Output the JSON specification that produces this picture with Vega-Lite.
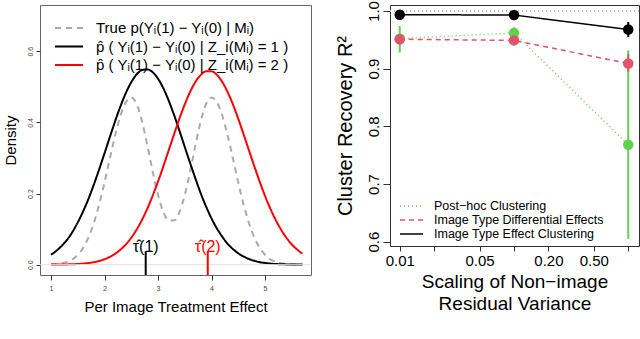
{
  "$schema": "https://vega.github.io/schema/vega-lite/v6.json",
  "padding": {"left": 2, "top": 0, "right": 0, "bottom": 0},
  "background": "white",
  "spacing": 79,
  "bounds": "flush",
  "resolve": {"scale": {"color": "independent", "strokeDash": "independent"}, "legend": {"color": "independent", "strokeDash": "independent"}},
  "config": {
    "font": "Liberation Sans",
    "axis": {"grid": false, "domain": false, "titleFontWeight": "normal", "titleColor": "black", "labelColor": "black", "tickColor": "#333", "labelFont": "Liberation Sans", "titleFont": "Liberation Sans"},
    "legend": {"title": null, "padding": 0, "labelFont": "Liberation Sans", "labelColor": "black"}
  },
  "datasets": {
    "curves": [
      {"x": 1.0, "y": 0.001, "s": "true"}, {"x": 1.1, "y": 0.002, "s": "true"}, {"x": 1.2, "y": 0.004, "s": "true"}, {"x": 1.3, "y": 0.008, "s": "true"}, {"x": 1.4, "y": 0.015, "s": "true"}, {"x": 1.5, "y": 0.028, "s": "true"}, {"x": 1.6, "y": 0.047, "s": "true"}, {"x": 1.7, "y": 0.077, "s": "true"}, {"x": 1.8, "y": 0.117, "s": "true"}, {"x": 1.9, "y": 0.169, "s": "true"}, {"x": 2.0, "y": 0.231, "s": "true"}, {"x": 2.1, "y": 0.299, "s": "true"}, {"x": 2.2, "y": 0.364, "s": "true"}, {"x": 2.3, "y": 0.420, "s": "true"}, {"x": 2.4, "y": 0.457, "s": "true"}, {"x": 2.5, "y": 0.470, "s": "true"}, {"x": 2.6, "y": 0.452, "s": "true"}, {"x": 2.7, "y": 0.404, "s": "true"}, {"x": 2.8, "y": 0.336, "s": "true"}, {"x": 2.9, "y": 0.262, "s": "true"}, {"x": 3.0, "y": 0.196, "s": "true"}, {"x": 3.1, "y": 0.148, "s": "true"}, {"x": 3.2, "y": 0.124, "s": "true"}, {"x": 3.3, "y": 0.124, "s": "true"}, {"x": 3.4, "y": 0.148, "s": "true"}, {"x": 3.5, "y": 0.196, "s": "true"}, {"x": 3.6, "y": 0.262, "s": "true"}, {"x": 3.7, "y": 0.336, "s": "true"}, {"x": 3.8, "y": 0.404, "s": "true"}, {"x": 3.9, "y": 0.452, "s": "true"}, {"x": 4.0, "y": 0.470, "s": "true"}, {"x": 4.1, "y": 0.457, "s": "true"}, {"x": 4.2, "y": 0.420, "s": "true"}, {"x": 4.3, "y": 0.364, "s": "true"}, {"x": 4.4, "y": 0.299, "s": "true"}, {"x": 4.5, "y": 0.231, "s": "true"}, {"x": 4.6, "y": 0.169, "s": "true"}, {"x": 4.7, "y": 0.117, "s": "true"}, {"x": 4.8, "y": 0.077, "s": "true"}, {"x": 4.9, "y": 0.047, "s": "true"}, {"x": 5.0, "y": 0.028, "s": "true"}, {"x": 5.1, "y": 0.015, "s": "true"}, {"x": 5.2, "y": 0.008, "s": "true"}, {"x": 5.3, "y": 0.004, "s": "true"}, {"x": 5.4, "y": 0.002, "s": "true"}, {"x": 5.5, "y": 0.001, "s": "true"}, {"x": 5.6, "y": 0.0003, "s": "true"}, {"x": 5.7, "y": 0.0001, "s": "true"},
      {"x": 1.0, "y": 0.028, "s": "z1"}, {"x": 1.1, "y": 0.039, "s": "z1"}, {"x": 1.2, "y": 0.053, "s": "z1"}, {"x": 1.3, "y": 0.070, "s": "z1"}, {"x": 1.4, "y": 0.092, "s": "z1"}, {"x": 1.5, "y": 0.119, "s": "z1"}, {"x": 1.6, "y": 0.150, "s": "z1"}, {"x": 1.7, "y": 0.185, "s": "z1"}, {"x": 1.8, "y": 0.225, "s": "z1"}, {"x": 1.9, "y": 0.268, "s": "z1"}, {"x": 2.0, "y": 0.313, "s": "z1"}, {"x": 2.1, "y": 0.359, "s": "z1"}, {"x": 2.2, "y": 0.404, "s": "z1"}, {"x": 2.3, "y": 0.446, "s": "z1"}, {"x": 2.4, "y": 0.483, "s": "z1"}, {"x": 2.5, "y": 0.513, "s": "z1"}, {"x": 2.6, "y": 0.535, "s": "z1"}, {"x": 2.7, "y": 0.547, "s": "z1"}, {"x": 2.8, "y": 0.549, "s": "z1"}, {"x": 2.9, "y": 0.541, "s": "z1"}, {"x": 3.0, "y": 0.523, "s": "z1"}, {"x": 3.1, "y": 0.496, "s": "z1"}, {"x": 3.2, "y": 0.461, "s": "z1"}, {"x": 3.3, "y": 0.421, "s": "z1"}, {"x": 3.4, "y": 0.377, "s": "z1"}, {"x": 3.5, "y": 0.331, "s": "z1"}, {"x": 3.6, "y": 0.286, "s": "z1"}, {"x": 3.7, "y": 0.242, "s": "z1"}, {"x": 3.8, "y": 0.200, "s": "z1"}, {"x": 3.9, "y": 0.163, "s": "z1"}, {"x": 4.0, "y": 0.130, "s": "z1"}, {"x": 4.1, "y": 0.102, "s": "z1"}, {"x": 4.2, "y": 0.079, "s": "z1"}, {"x": 4.3, "y": 0.059, "s": "z1"}, {"x": 4.4, "y": 0.044, "s": "z1"}, {"x": 4.5, "y": 0.032, "s": "z1"}, {"x": 4.6, "y": 0.023, "s": "z1"}, {"x": 4.7, "y": 0.016, "s": "z1"}, {"x": 4.8, "y": 0.011, "s": "z1"}, {"x": 4.9, "y": 0.007, "s": "z1"}, {"x": 5.0, "y": 0.005, "s": "z1"}, {"x": 5.1, "y": 0.003, "s": "z1"}, {"x": 5.2, "y": 0.002, "s": "z1"}, {"x": 5.3, "y": 0.0012, "s": "z1"}, {"x": 5.4, "y": 0.0008, "s": "z1"}, {"x": 5.5, "y": 0.0005, "s": "z1"}, {"x": 5.6, "y": 0.0003, "s": "z1"}, {"x": 5.7, "y": 0.0002, "s": "z1"},
      {"x": 1.0, "y": 0.0002, "s": "z2"}, {"x": 1.1, "y": 0.0003, "s": "z2"}, {"x": 1.2, "y": 0.0005, "s": "z2"}, {"x": 1.3, "y": 0.0008, "s": "z2"}, {"x": 1.4, "y": 0.0012, "s": "z2"}, {"x": 1.5, "y": 0.002, "s": "z2"}, {"x": 1.6, "y": 0.0031, "s": "z2"}, {"x": 1.7, "y": 0.0047, "s": "z2"}, {"x": 1.8, "y": 0.0071, "s": "z2"}, {"x": 1.9, "y": 0.0106, "s": "z2"}, {"x": 2.0, "y": 0.0154, "s": "z2"}, {"x": 2.1, "y": 0.022, "s": "z2"}, {"x": 2.2, "y": 0.0308, "s": "z2"}, {"x": 2.3, "y": 0.0424, "s": "z2"}, {"x": 2.4, "y": 0.0572, "s": "z2"}, {"x": 2.5, "y": 0.0758, "s": "z2"}, {"x": 2.6, "y": 0.0986, "s": "z2"}, {"x": 2.7, "y": 0.1258, "s": "z2"}, {"x": 2.8, "y": 0.1575, "s": "z2"}, {"x": 2.9, "y": 0.1937, "s": "z2"}, {"x": 3.0, "y": 0.2337, "s": "z2"}, {"x": 3.1, "y": 0.2767, "s": "z2"}, {"x": 3.2, "y": 0.3215, "s": "z2"}, {"x": 3.3, "y": 0.3666, "s": "z2"}, {"x": 3.4, "y": 0.4103, "s": "z2"}, {"x": 3.5, "y": 0.4507, "s": "z2"}, {"x": 3.6, "y": 0.4858, "s": "z2"}, {"x": 3.7, "y": 0.514, "s": "z2"}, {"x": 3.8, "y": 0.5336, "s": "z2"}, {"x": 3.9, "y": 0.5437, "s": "z2"}, {"x": 4.0, "y": 0.5437, "s": "z2"}, {"x": 4.1, "y": 0.5336, "s": "z2"}, {"x": 4.2, "y": 0.514, "s": "z2"}, {"x": 4.3, "y": 0.4858, "s": "z2"}, {"x": 4.4, "y": 0.4507, "s": "z2"}, {"x": 4.5, "y": 0.4103, "s": "z2"}, {"x": 4.6, "y": 0.3666, "s": "z2"}, {"x": 4.7, "y": 0.3215, "s": "z2"}, {"x": 4.8, "y": 0.2767, "s": "z2"}, {"x": 4.9, "y": 0.2337, "s": "z2"}, {"x": 5.0, "y": 0.1937, "s": "z2"}, {"x": 5.1, "y": 0.1575, "s": "z2"}, {"x": 5.2, "y": 0.1258, "s": "z2"}, {"x": 5.3, "y": 0.0986, "s": "z2"}, {"x": 5.4, "y": 0.0758, "s": "z2"}, {"x": 5.5, "y": 0.0572, "s": "z2"}, {"x": 5.6, "y": 0.0424, "s": "z2"}, {"x": 5.7, "y": 0.0308, "s": "z2"}
    ],
    "taus": [
      {"x": 2.77, "lab": "τ̂(1)", "s": "z1"},
      {"x": 3.93, "lab": "τ̂(2)", "s": "z2"}
    ],
    "perf": [
      {"scale": 0.01, "method": "Post−hoc Clustering", "r2": 0.952, "lo": 0.928, "hi": 0.974},
      {"scale": 0.1, "method": "Post−hoc Clustering", "r2": 0.962, "lo": 0.952, "hi": 0.972},
      {"scale": 1, "method": "Post−hoc Clustering", "r2": 0.768, "lo": 0.605, "hi": 0.932},
      {"scale": 0.01, "method": "Image Type Differential Effects", "r2": 0.951, "lo": 0.947, "hi": 0.955},
      {"scale": 0.1, "method": "Image Type Differential Effects", "r2": 0.949, "lo": 0.946, "hi": 0.952},
      {"scale": 1, "method": "Image Type Differential Effects", "r2": 0.909, "lo": 0.895, "hi": 0.925},
      {"scale": 0.01, "method": "Image Type Effect Clustering", "r2": 0.9936, "lo": 0.991, "hi": 0.996},
      {"scale": 0.1, "method": "Image Type Effect Clustering", "r2": 0.993, "lo": 0.990, "hi": 0.996},
      {"scale": 1, "method": "Image Type Effect Clustering", "r2": 0.968, "lo": 0.955, "hi": 0.981}
    ]
  },
  "hconcat": [
    {
      "width": 271,
      "height": 270,
      "view": {"stroke": "#666", "strokeWidth": 1},
      "layer": [
        {
          "data": {"name": "curves"},
          "mark": {"type": "line", "strokeWidth": 2, "interpolate": "monotone"},
          "encoding": {
            "x": {"field": "x", "type": "quantitative",
              "scale": {"domain": [0.794, 5.86], "nice": false, "zero": false},
              "axis": {"values": [1, 2, 3, 4, 5], "title": "Per Image Treatment Effect", "labelFontSize": 7, "labelColor": "#444", "tickSize": 5, "labelPadding": 4, "titlePadding": 8, "titleFontSize": 15, "labelFlush": false}},
            "y": {"field": "y", "type": "quantitative",
              "scale": {"domain": [-0.029, 0.73], "nice": false, "zero": false},
              "axis": {"values": [0, 0.1, 0.2, 0.3, 0.4, 0.5, 0.6, 0.7], "format": ".1f", "labelAngle": 270, "labelFontSize": 7, "labelColor": "#444", "tickSize": 4, "labelPadding": 3, "title": "Density", "titleFontSize": 15, "titlePadding": 8}},
            "color": {"field": "s", "type": "nominal",
              "scale": {"domain": ["true", "z1", "z2"], "range": ["#aaaaaa", "#000000", "#ff0000"]},
              "legend": {"orient": "none", "legendX": 21, "legendY": 15, "symbolType": "M-2,0H2", "symbolSize": 196, "symbolStrokeWidth": 2, "labelFontSize": 15, "labelOffset": 19, "rowPadding": 2.5, "labelLimit": 400,
                "labelExpr": "datum.value == 'true' ? 'True p(Yᵢ(1) − Yᵢ(0) | Mᵢ)' : datum.value == 'z1' ? 'p̂ ( Yᵢ(1) − Yᵢ(0) | Z_i(Mᵢ) = 1 )' : 'p̂ ( Yᵢ(1) − Yᵢ(0) | Z_i(Mᵢ) = 2 )'"}},
            "strokeDash": {"field": "s", "type": "nominal",
              "scale": {"domain": ["true", "z1", "z2"], "range": [[6, 5], [1, 0], [1, 0]]},
              "legend": {"orient": "none", "legendX": 21, "legendY": 15, "symbolType": "M-2,0H2", "symbolSize": 196, "symbolStrokeWidth": 2, "labelFontSize": 15, "labelOffset": 19, "rowPadding": 2.5, "labelLimit": 400,
                "labelExpr": "datum.value == 'true' ? 'True p(Yᵢ(1) − Yᵢ(0) | Mᵢ)' : datum.value == 'z1' ? 'p̂ ( Yᵢ(1) − Yᵢ(0) | Z_i(Mᵢ) = 1 )' : 'p̂ ( Yᵢ(1) − Yᵢ(0) | Z_i(Mᵢ) = 2 )'"}}
          }
        },
        {
          "data": {"values": [{}]},
          "mark": {"type": "rule", "color": "#e2e2e2", "strokeWidth": 1},
          "encoding": {"y": {"datum": 0}}
        },
        {
          "data": {"name": "taus"},
          "mark": {"type": "rule", "strokeWidth": 2},
          "encoding": {
            "x": {"field": "x", "type": "quantitative"},
            "y": {"datum": -0.029},
            "y2": {"datum": 0.038},
            "color": {"field": "s", "type": "nominal", "legend": null}
          }
        },
        {
          "data": {"name": "taus"},
          "mark": {"type": "text", "fontSize": 16, "baseline": "alphabetic", "align": "center"},
          "encoding": {
            "x": {"field": "x", "type": "quantitative"},
            "y": {"datum": 0.036},
            "text": {"field": "lab"},
            "color": {"field": "s", "type": "nominal", "legend": null}
          }
        }
      ]
    },
    {
      "width": 249,
      "height": 241,
      "view": {"stroke": "#333", "strokeWidth": 1},
      "data": {"name": "perf"},
      "layer": [
        {
          "mark": {"type": "line", "strokeWidth": 1.5},
          "encoding": {
            "x": {"field": "scale", "type": "quantitative",
              "scale": {"type": "log", "domain": [0.00822, 1.2417], "nice": false},
              "axis": {"values": [0.01, 0.02, 0.05, 0.1, 0.2, 0.5, 1], "labelExpr": "datum.value == 0.01 ? '0.01' : datum.value == 0.05 ? '0.05' : datum.value == 0.2 ? '0.20' : datum.value == 0.5 ? '0.50' : ''", "tickSize": 5, "labelFontSize": 15, "labelPadding": 2, "labelFlush": false, "title": ["Scaling of Non−image", "Residual Variance"], "titleFontSize": 19, "titleLineHeight": 22, "titlePadding": 4}},
            "y": {"field": "r2", "type": "quantitative",
              "scale": {"domain": [0.5925, 1.0104], "nice": false, "zero": false},
              "axis": {"values": [0.6, 0.7, 0.8, 0.9, 1.0], "format": ".1f", "labelAngle": 270, "labelFontSize": 15, "tickSize": 7, "labelPadding": 2, "title": "Cluster Recovery R²", "titleFontSize": 20, "titlePadding": 11}},
            "color": {"field": "method", "type": "nominal",
              "scale": {"domain": ["Post−hoc Clustering", "Image Type Differential Effects", "Image Type Effect Clustering"], "range": ["#61D04F", "#DF536B", "#000000"]},
              "legend": {"orient": "none", "legendX": 14.5, "legendY": 194, "symbolType": "M-1.92,0H1.92", "symbolSize": 144, "symbolStrokeWidth": 1.5, "labelFontSize": 12.5, "labelOffset": 15.5, "rowPadding": 0, "labelLimit": 400}},
            "strokeDash": {"field": "method", "type": "nominal",
              "scale": {"domain": ["Post−hoc Clustering", "Image Type Differential Effects", "Image Type Effect Clustering"], "range": [[1, 3], [5, 4], [1, 0]]},
              "legend": {"orient": "none", "legendX": 14.5, "legendY": 194, "symbolType": "M-1.92,0H1.92", "symbolSize": 144, "symbolStrokeWidth": 1.5, "labelFontSize": 12.5, "labelOffset": 15.5, "rowPadding": 0, "labelLimit": 400}}
          }
        },
        {
          "mark": {"type": "rule", "color": "#bbbbbb", "strokeDash": [1, 3], "strokeWidth": 1},
          "encoding": {"y": {"datum": 1}}
        },
        {
          "mark": {"type": "rule", "strokeWidth": 2},
          "encoding": {
            "x": {"field": "scale", "type": "quantitative"},
            "y": {"field": "lo", "type": "quantitative"},
            "y2": {"field": "hi"},
            "color": {"field": "method", "type": "nominal", "legend": null}
          }
        },
        {
          "mark": {"type": "point", "filled": true, "size": 110, "opacity": 1, "shape": "circle"},
          "encoding": {
            "x": {"field": "scale", "type": "quantitative"},
            "y": {"field": "r2", "type": "quantitative"},
            "color": {"field": "method", "type": "nominal", "legend": null}
          }
        }
      ]
    }
  ]
}
